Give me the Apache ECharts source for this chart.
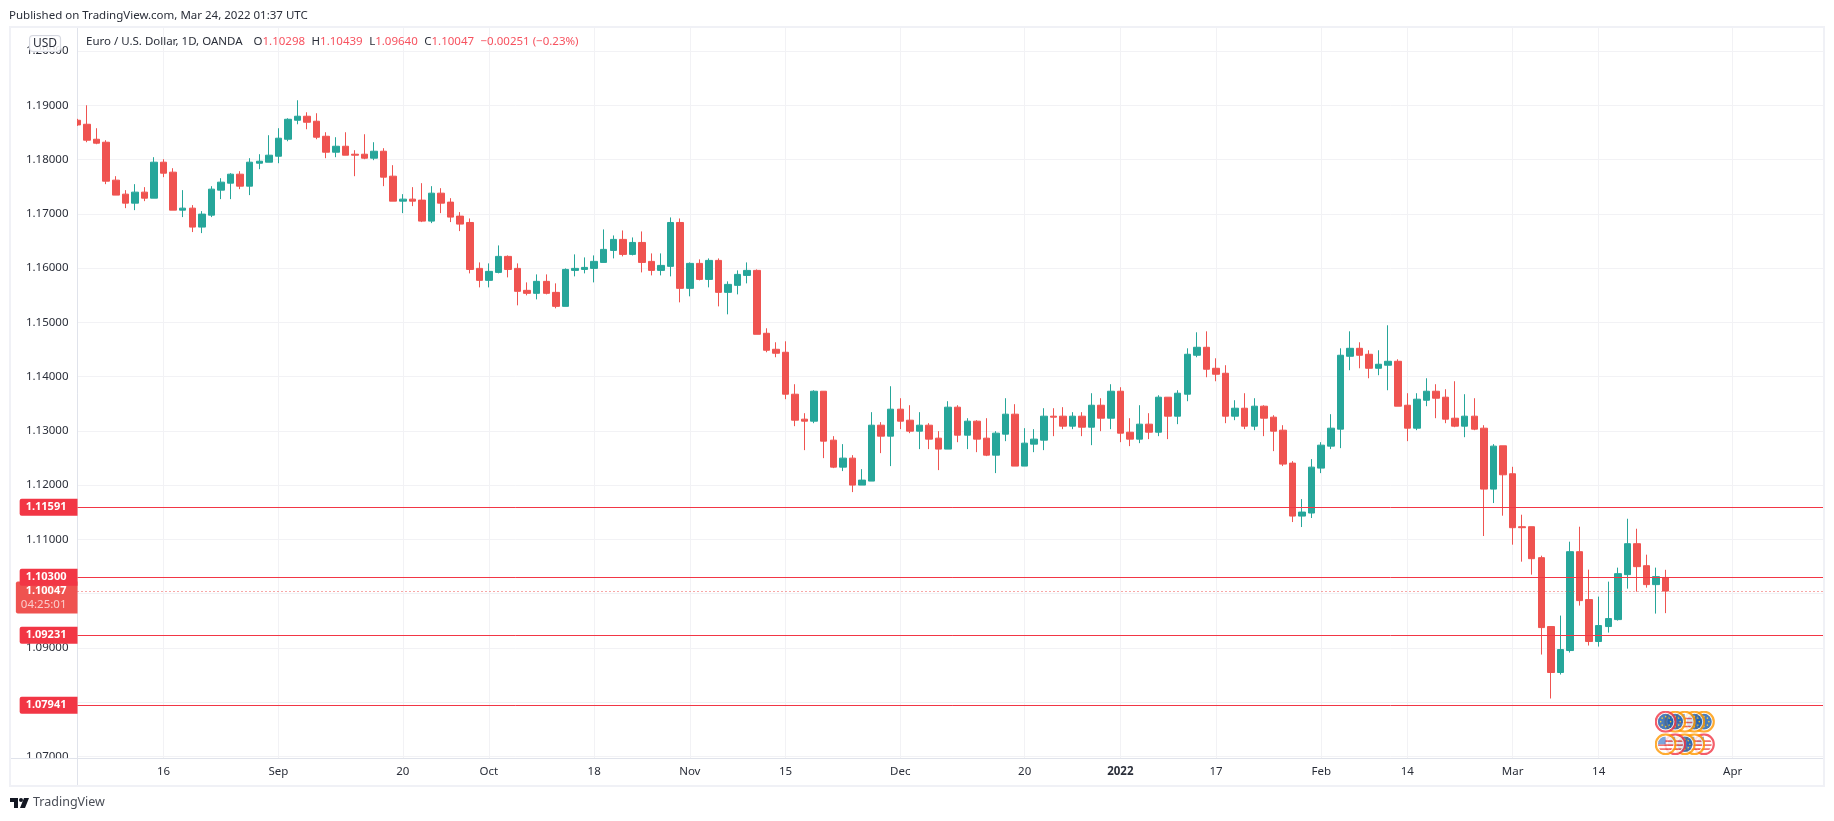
<!DOCTYPE html>
<html>
<head>
<meta charset="utf-8">
<title>EUR/USD</title>
<script src="https://cdn.jsdelivr.net/npm/echarts@6/dist/echarts.min.js"></script>
<style>
  html, body { margin: 0; padding: 0; background: #fff; }
  #chart { width: 1834px; height: 821px; }
</style>
</head>
<body>
<div id="chart"></div>
<script>
const dates = [
  '2021-08-03','2021-08-04','2021-08-05','2021-08-06','2021-08-09','2021-08-10','2021-08-11','2021-08-12','2021-08-13',
  '2021-08-16','2021-08-17','2021-08-18','2021-08-19','2021-08-20','2021-08-23','2021-08-24','2021-08-25','2021-08-26','2021-08-27','2021-08-30','2021-08-31',
  '2021-09-01','2021-09-02','2021-09-03','2021-09-06','2021-09-07','2021-09-08','2021-09-09','2021-09-10','2021-09-13','2021-09-14','2021-09-15','2021-09-16','2021-09-17',
  '2021-09-20','2021-09-21','2021-09-22','2021-09-23','2021-09-24','2021-09-27','2021-09-28','2021-09-29','2021-09-30',
  '2021-10-01','2021-10-04','2021-10-05','2021-10-06','2021-10-07','2021-10-08','2021-10-11','2021-10-12','2021-10-13','2021-10-14','2021-10-15',
  '2021-10-18','2021-10-19','2021-10-20','2021-10-21','2021-10-22','2021-10-25','2021-10-26','2021-10-27','2021-10-28','2021-10-29',
  '2021-11-01','2021-11-02','2021-11-03','2021-11-04','2021-11-05','2021-11-08','2021-11-09','2021-11-10','2021-11-11','2021-11-12',
  '2021-11-15','2021-11-16','2021-11-17','2021-11-18','2021-11-19','2021-11-22','2021-11-23','2021-11-24','2021-11-25','2021-11-26','2021-11-29','2021-11-30',
  '2021-12-01','2021-12-02','2021-12-03','2021-12-06','2021-12-07','2021-12-08','2021-12-09','2021-12-10','2021-12-13','2021-12-14','2021-12-15','2021-12-16','2021-12-17',
  '2021-12-20','2021-12-21','2021-12-22','2021-12-23','2021-12-24','2021-12-27','2021-12-28','2021-12-29','2021-12-30','2021-12-31',
  '2022-01-03','2022-01-04','2022-01-05','2022-01-06','2022-01-07','2022-01-10','2022-01-11','2022-01-12','2022-01-13','2022-01-14',
  '2022-01-17','2022-01-18','2022-01-19','2022-01-20','2022-01-21','2022-01-24','2022-01-25','2022-01-26','2022-01-27','2022-01-28','2022-01-31',
  '2022-02-01','2022-02-02','2022-02-03','2022-02-04','2022-02-07','2022-02-08','2022-02-09','2022-02-10','2022-02-11',
  '2022-02-14','2022-02-15','2022-02-16','2022-02-17','2022-02-18','2022-02-21','2022-02-22','2022-02-23','2022-02-24','2022-02-25','2022-02-28',
  '2022-03-01','2022-03-02','2022-03-03','2022-03-04','2022-03-07','2022-03-08','2022-03-09','2022-03-10','2022-03-11',
  '2022-03-14','2022-03-15','2022-03-16','2022-03-17','2022-03-18','2022-03-21','2022-03-22','2022-03-23',
  '2022-03-24','2022-03-25','2022-03-28','2022-03-29','2022-03-30','2022-03-31',
  '2022-04-01','2022-04-04','2022-04-05','2022-04-06','2022-04-07','2022-04-08','2022-04-11','2022-04-12','2022-04-13','2022-04-14','2022-04-15'
]

// open, close, low, high
const ohlc = [
  [1.18724,1.18638,1.18620,1.18750],[1.18650,1.18356,1.18319,1.19000],[1.18374,1.18301,1.18282,1.18577],
  [1.18319,1.17601,1.17546,1.18356],[1.17620,1.17344,1.17344,1.17693],[1.17362,1.17196,1.17104,1.17436],
  [1.17196,1.17399,1.17067,1.17546],[1.17399,1.17288,1.17233,1.17491],[1.17288,1.17951,1.17288,1.18043],
  [1.17951,1.17748,1.17675,1.18006],[1.17767,1.17067,1.17067,1.17840],[1.17067,1.17104,1.16939,1.17436],
  [1.17104,1.16755,1.16663,1.17160],[1.16755,1.16994,1.16644,1.17049],[1.16975,1.17454,1.16939,1.17509],
  [1.17436,1.17583,1.17270,1.17656],[1.17564,1.17730,1.17270,1.17748],[1.17730,1.17509,1.17454,1.17785],
  [1.17509,1.17951,1.17344,1.18025],[1.17932,1.17969,1.17822,1.18098],[1.17951,1.18080,1.17951,1.18448],
  [1.18061,1.18393,1.17932,1.18577],[1.18374,1.18742,1.18337,1.18761],[1.18724,1.18798,1.18650,1.19092],
  [1.18798,1.18687,1.18558,1.18871],[1.18706,1.18411,1.18374,1.18853],[1.18429,1.18135,1.18025,1.18503],
  [1.18135,1.18245,1.18043,1.18411],[1.18245,1.18080,1.18080,1.18503],[1.18098,1.18080,1.17693,1.18172],
  [1.18098,1.18025,1.18006,1.18466],[1.18025,1.18153,1.17988,1.18319],[1.18153,1.17675,1.17509,1.18209],
  [1.17693,1.17233,1.17233,1.17896],[1.17233,1.17270,1.17012,1.17362],[1.17270,1.17233,1.17141,1.17491],
  [1.17252,1.16865,1.16847,1.17564],[1.16865,1.17380,1.16828,1.17509],[1.17380,1.17196,1.17012,1.17472],
  [1.17215,1.16939,1.16847,1.17288],[1.16957,1.16810,1.16681,1.17031],[1.16840,1.15975,1.15902,1.16914],
  [1.15994,1.15773,1.15644,1.16104],[1.15773,1.15939,1.15644,1.16086],[1.15920,1.16215,1.15902,1.16417],
  [1.16215,1.15975,1.15828,1.16233],[1.15994,1.15571,1.15313,1.16086],[1.15589,1.15534,1.15497,1.15736],
  [1.15534,1.15755,1.15423,1.15883],[1.15755,1.15534,1.15515,1.15883],[1.15552,1.15294,1.15258,1.15718],
  [1.15294,1.15975,1.15294,1.15994],[1.15957,1.15994,1.15847,1.16252],[1.15975,1.16012,1.15902,1.16196],
  [1.15994,1.16123,1.15736,1.16233],[1.16104,1.16344,1.16104,1.16712],[1.16325,1.16528,1.16178,1.16601],
  [1.16528,1.16252,1.16215,1.16693],[1.16252,1.16472,1.16233,1.16564],[1.16472,1.16104,1.15920,1.16675],
  [1.16123,1.15957,1.15865,1.16270],[1.15957,1.16049,1.15865,1.16270],[1.16031,1.16840,1.15847,1.16933],
  [1.16840,1.15626,1.15368,1.16914],[1.15626,1.16086,1.15479,1.16104],[1.16086,1.15791,1.15773,1.16160],
  [1.15791,1.16141,1.15644,1.16178],[1.16141,1.15552,1.15294,1.16178],[1.15552,1.15699,1.15147,1.15755],
  [1.15681,1.15883,1.15515,1.15957],[1.15865,1.15957,1.15718,1.16104],[1.15957,1.14779,1.14779,1.15975],
  [1.14798,1.14485,1.14448,1.14890],[1.14503,1.14430,1.14356,1.14632],[1.14448,1.13675,1.13583,1.14650],
  [1.13675,1.13196,1.13086,1.13859],[1.13215,1.13178,1.12644,1.13325],[1.13178,1.13730,1.13141,1.13748],
  [1.13730,1.12810,1.12497,1.13730],[1.12828,1.12331,1.12313,1.12902],[1.12331,1.12497,1.12258,1.12755],
  [1.12497,1.12000,1.11871,1.12552],[1.12000,1.12092,1.12000,1.12294],[1.12074,1.13104,1.12074,1.13344],
  [1.13104,1.12902,1.12589,1.13160],[1.12902,1.13399,1.12350,1.13822],[1.13399,1.13178,1.13031,1.13601],
  [1.13196,1.12994,1.12957,1.13472],[1.12994,1.13104,1.12663,1.13344],[1.13104,1.12847,1.12663,1.13141],
  [1.12865,1.12663,1.12276,1.12994],[1.12663,1.13436,1.12663,1.13546],[1.13436,1.12920,1.12791,1.13472],
  [1.12920,1.13178,1.12663,1.13233],[1.13178,1.12847,1.12607,1.13196],[1.12865,1.12552,1.12534,1.13233],
  [1.12552,1.12957,1.12221,1.12994],[1.12939,1.13307,1.12810,1.13601],[1.13307,1.12350,1.12350,1.13491],
  [1.12350,1.12773,1.12350,1.13049],[1.12755,1.12847,1.12607,1.13031],[1.12828,1.13270,1.12644,1.13417],
  [1.13270,1.13252,1.12902,1.13417],[1.13270,1.13086,1.13031,1.13436],[1.13086,1.13270,1.13031,1.13344],
  [1.13270,1.13067,1.12902,1.13344],[1.13067,1.13472,1.12736,1.13693],[1.13472,1.13233,1.12994,1.13601],
  [1.13233,1.13730,1.13031,1.13859],[1.13730,1.12957,1.12791,1.13804],[1.12975,1.12847,1.12718,1.13233],
  [1.12847,1.13123,1.12773,1.13472],[1.13123,1.12975,1.12847,1.13325],[1.12975,1.13620,1.12902,1.13656],
  [1.13620,1.13270,1.12847,1.13620],[1.13270,1.13693,1.13123,1.13748],[1.13675,1.14411,1.13546,1.14521],
  [1.14393,1.14540,1.14356,1.14816],[1.14540,1.14135,1.13988,1.14834],[1.14153,1.14043,1.13914,1.14337],
  [1.14061,1.13270,1.13141,1.14209],[1.13270,1.13417,1.13196,1.13564],[1.13417,1.13086,1.13031,1.13693],
  [1.13086,1.13454,1.13012,1.13601],[1.13454,1.13233,1.12902,1.13472],[1.13252,1.12994,1.12626,1.13288],
  [1.13012,1.12387,1.12350,1.13104],[1.12405,1.11429,1.11319,1.12442],[1.11429,1.11503,1.11227,1.11742],
  [1.11485,1.12331,1.11393,1.12479],[1.12313,1.12736,1.12221,1.12791],[1.12718,1.13049,1.12663,1.13307],
  [1.13031,1.14393,1.12681,1.14521],[1.14374,1.14521,1.14117,1.14834],[1.14521,1.14393,1.14153,1.14632],
  [1.14411,1.14153,1.13969,1.14485],[1.14153,1.14227,1.14025,1.14485],[1.14209,1.14282,1.13748,1.14945],
  [1.14282,1.13454,1.13454,1.14319],[1.13472,1.13049,1.12810,1.13693],[1.13049,1.13583,1.13012,1.13693],
  [1.13564,1.13730,1.13454,1.13969],[1.13730,1.13601,1.13233,1.13859],[1.13620,1.13215,1.13141,1.13767],
  [1.13233,1.13086,1.13067,1.13914],[1.13086,1.13270,1.12883,1.13675],[1.13270,1.13031,1.13012,1.13601],
  [1.13049,1.11926,1.11061,1.13104],[1.11926,1.12718,1.11669,1.12755],[1.12724,1.12190,1.11436,1.12724],
  [1.12209,1.11215,1.10902,1.12337],[1.11233,1.11215,1.10589,1.11454],[1.11233,1.10644,1.10350,1.11233],
  [1.10663,1.09374,1.08877,1.10699],[1.09393,1.08546,1.08067,1.09393],[1.08546,1.08969,1.08509,1.09595],
  [1.08951,1.10773,1.08914,1.10957],[1.10773,1.09871,1.09779,1.11233],[1.09890,1.09117,1.09043,1.10442],
  [1.09117,1.09411,1.09024,1.09945],[1.09393,1.09540,1.09282,1.10221],[1.09521,1.10368,1.09503,1.10479],
  [1.10350,1.10920,1.10092,1.11380],[1.10920,1.10497,1.10037,1.11196],[1.10515,1.10166,1.10110,1.10718],
  [1.10166,1.10313,1.09632,1.10479],[1.10298,1.10047,1.09640,1.10439]
]

const tickDates = ['2021-08-16','2021-09-01','2021-09-20','2021-10-01','2021-10-18','2021-11-01','2021-11-15','2021-12-01','2021-12-20','2022-01-03','2022-01-17','2022-02-01','2022-02-14','2022-03-01','2022-03-14','2022-04-01']
const tickLabels = ['16','Sep','20','Oct','18','Nov','15','Dec','20','2022','17','Feb','14','Mar','14','Apr']
const priceTicks = [1.07, 1.08, 1.09, 1.10, 1.11, 1.12, 1.13, 1.14, 1.15, 1.16, 1.17, 1.18, 1.19, 1.20]
const levels = [1.11591, 1.10300, 1.09231, 1.07941]
const lastPrice = 1.10047
const countdown = '04:25:01'

// economic event badges, listed right to left so the leftmost ends up on top
const eventDates = ['2022-03-29','2022-03-28','2022-03-25','2022-03-24','2022-03-23']
const eventRowTop = ['eu|#ff9800','eu|#ff9800','us|#ff9800','eu|#ff9800','eu|#f23645']
const eventRowBottom = ['us|#f23645','us|#ff9800','eu|#ff9800','us|#f23645','us|#ff9800']
const eventPriceTop = 1.0764
const eventPriceBottom = 1.07223

const UP = '#26a69a'
const DOWN = '#ef5350'
const LEVEL = '#f23645'
const TEXT = '#2a2e39'
const GRID = '#f2f2f5'
const FONT = '"Noto Sans", sans-serif'

function badge (spec) {
  const [kind, ring] = spec.split('|')
  let inner
  if (kind === 'eu') {
    const stars = [[11, 6], [14.5, 7.5], [16, 11], [14.5, 14.5], [11, 16], [7.5, 14.5], [6, 11], [7.5, 7.5]]
      .map(p => `<circle cx="${p[0]}" cy="${p[1]}" r="0.8" fill="#f5c518"/>`).join('')
    inner = `<circle cx="11" cy="11" r="7.8" fill="#1f5dab"/>${stars}`
  } else {
    inner = '<clipPath id="c"><circle cx="11" cy="11" r="7.8"/></clipPath><g clip-path="url(#c)">' +
      '<rect x="3" y="3" width="16" height="16" fill="#fff"/>' +
      '<path d="M3 7H19V8.6H3ZM3 11H19V12.6H3ZM3 15H19V16.6H3Z" fill="#ef5350"/>' +
      '<rect x="3" y="3" width="8" height="8" fill="#5b8fd6"/></g>'
  }
  const svg = `<svg xmlns="http://www.w3.org/2000/svg" width="22" height="22">` +
    `<circle cx="11" cy="11" r="9.9" fill="#fff" stroke="${ring}" stroke-width="2.2"/>${inner}</svg>`
  return 'image://data:image/svg+xml;charset=utf-8,' + encodeURIComponent(svg)
}

function eventPoints (row, price) {
  return eventDates.map((d, i) => ({ value: [d, price], symbol: badge(row[i]) }))
}

function levelLine (v) {
  return {
    yAxis: v,
    lineStyle: { color: LEVEL, width: 1, type: 'solid' },
    label: {
      show: true,
      position: 'start',
      distance: 0,
      formatter: v.toFixed(5),
      color: '#fff',
      fontFamily: FONT,
      fontSize: 11,
      fontWeight: 'bold',
      backgroundColor: LEVEL,
      borderRadius: [2, 0, 0, 2],
      padding: [2, 11, 2, 6],
      lineHeight: 13
    }
  }
}

const option = {
  animation: false,
  backgroundColor: '#fff',
  grid: { left: 77.5, top: 28, right: 5.7, bottom: 62.7 },
  xAxis: {
    type: 'category',
    data: dates,
    boundaryGap: false,
    axisLine: { lineStyle: { color: '#e0e3eb' } },
    axisTick: { show: false },
    axisLabel: {
      interval: (i, v) => tickDates.includes(v),
      formatter: v => {
        const t = tickLabels[tickDates.indexOf(v)]
        return t === '2022' ? '{b|2022}' : t
      },
      rich: { b: { fontWeight: 'bold', fontFamily: FONT, fontSize: 11.5, color: TEXT } },
      color: TEXT,
      fontFamily: FONT,
      fontSize: 11.5,
      margin: 7
    },
    splitLine: {
      show: true,
      interval: (i, v) => tickDates.includes(v),
      lineStyle: { color: GRID, width: 1 }
    }
  },
  yAxis: {
    type: 'value',
    min: 1.06965,
    max: 1.20424,
    axisLine: { show: true, lineStyle: { color: '#e0e3eb' } },
    axisTick: { show: false, customValues: priceTicks },
    axisLabel: {
      customValues: priceTicks,
      formatter: v => v.toFixed(5),
      color: TEXT,
      fontFamily: FONT,
      fontSize: 11.5,
      margin: 9
    },
    splitLine: { show: true, lineStyle: { color: GRID, width: 1 } }
  },
  series: [
    {
      type: 'candlestick',
      data: ohlc,
      barWidth: 7,
      itemStyle: { color: UP, color0: DOWN, borderColor: UP, borderColor0: DOWN, borderWidth: 1 },
      markLine: {
        silent: true,
        symbol: 'none',
        precision: 5,
        data: [{
          yAxis: lastPrice,
          lineStyle: { color: DOWN, width: 1, type: [1, 3] },
          label: {
            show: true,
            position: 'start',
            distance: 0,
            offset: [0, 6.4],
            formatter: `{p|${lastPrice.toFixed(5)}}\n{t|${countdown}}`,
            backgroundColor: DOWN,
            borderRadius: [2, 0, 0, 2],
            padding: [2, 11, 2, 5],
            rich: {
              p: { color: '#fff', fontFamily: FONT, fontSize: 11, fontWeight: 'bold', lineHeight: 14, align: 'right' },
              t: { color: 'rgba(255,255,255,0.7)', fontFamily: FONT, fontSize: 11.5, lineHeight: 14, align: 'right' }
            }
          }
        }].concat(levels.map(levelLine))
      }
    },
    {
      type: 'scatter',
      symbolSize: 22,
      silent: true,
      data: eventPoints(eventRowTop, eventPriceTop)
    },
    {
      type: 'scatter',
      symbolSize: 22,
      silent: true,
      data: eventPoints(eventRowBottom, eventPriceBottom)
    }
  ],
  graphic: [
    // candlestick clip only drops whole boxes, so hide the left half of the first one
    { type: 'rect', z: 50, silent: true, shape: { x: 70, y: 112, width: 7, height: 30 }, style: { fill: '#fff' } },
    // clip the lowest price label at the time scale
    { type: 'rect', z: 50, silent: true, shape: { x: 12, y: 759, width: 65, height: 10 }, style: { fill: '#fff' } },
    // grid overshoots the frame a little so candles land on the right slots
    { type: 'rect', z: 50, silent: true, shape: { x: 1825, y: 0, width: 9, height: 821 }, style: { fill: '#fff' } },
    { type: 'line', z: 51, silent: true, shape: { x1: 11, y1: 758.5, x2: 1824, y2: 758.5 }, style: { stroke: '#e0e3eb', lineWidth: 1 } },
    { type: 'line', z: 51, silent: true, shape: { x1: 77.5, y1: 758, x2: 77.5, y2: 785 }, style: { stroke: '#e0e3eb', lineWidth: 1 } },
    { type: 'rect', z: 52, silent: true, shape: { x: 10, y: 27, width: 1814, height: 759 }, style: { fill: 'none', stroke: '#f0f1f6', lineWidth: 2 } },
    {
      type: 'text', z: 60, silent: true, x: 9, y: 10,
      style: { text: 'Published on TradingView.com, Mar 24, 2022 01:37 UTC', fill: TEXT, font: '11.5px ' + FONT }
    },
    {
      type: 'text', z: 60, silent: true, x: 30, y: 36,
      style: {
        text: 'USD', fill: TEXT, font: '12px ' + FONT,
        backgroundColor: 'rgba(255,255,255,0.85)', borderColor: '#d6d8e0', borderWidth: 1, borderRadius: 3,
        padding: [0, 3, 0, 3], lineHeight: 15
      }
    },
    {
      type: 'text', z: 60, silent: true, x: 86, y: 36,
      style: {
        text: '{k|Euro / U.S. Dollar, 1D, OANDA}{gap|}{k|O}{r|1.10298}{gap2|}{k|H}{r|1.10439}{gap2|}{k|L}{r|1.09640}{gap2|}{k|C}{r|1.10047}{gap2|}{r|\u22120.00251 (\u22120.23%)}',
        rich: {
          k: { fill: TEXT, font: '11.5px ' + FONT },
          r: { fill: '#f7525f', font: '11.5px ' + FONT },
          gap: { width: 11 },
          gap2: { width: 6.5 }
        }
      }
    },
    {
      type: 'polygon', z: 60, silent: true,
      shape: { points: [[10, 798], [18, 798], [18, 808], [14, 808], [14, 802], [10, 802]] },
      style: { fill: '#131722' }
    },
    { type: 'circle', z: 60, silent: true, shape: { cx: 21, cy: 800, r: 2 }, style: { fill: '#131722' } },
    {
      type: 'polygon', z: 60, silent: true,
      shape: { points: [[24, 798], [29, 798], [25, 808], [20, 808]] },
      style: { fill: '#131722' }
    },
    {
      type: 'text', z: 60, silent: true, x: 33, y: 796,
      style: { text: 'TradingView', fill: '#4a4e57', font: '12.5px ' + FONT }
    }
  ]
}

const myChart = echarts.init(document.getElementById('chart'))
myChart.setOption(option)
</script>
</body>
</html>
